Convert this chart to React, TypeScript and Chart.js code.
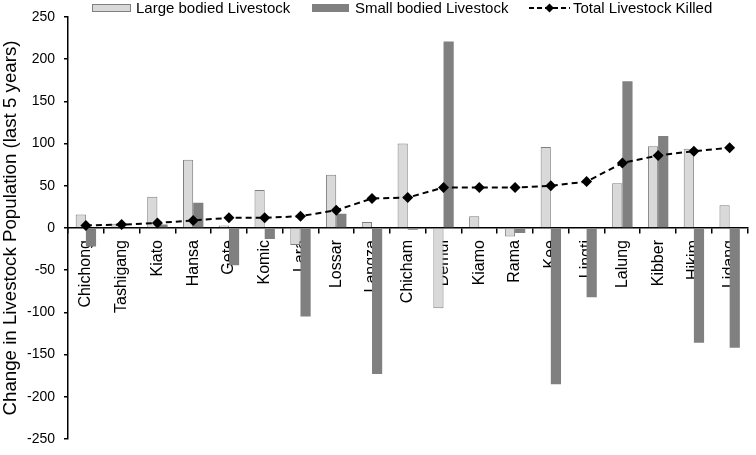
import React, { useEffect, useRef } from "react";
import { Chart, registerables } from "chart.js";

Chart.register(...registerables);

const categories = [
  "Chichong", "Tashigang", "Kiato", "Hansa", "Gete", "Komic", "Lara", "Lossar", "Langza",
  "Chicham", "Demul", "Kiamo", "Rama", "Kee", "Lingti", "Lalung", "Kibber", "Hikim", "Lidang",
];
const largeBodied = [16, 5, 37, 81, 3, 45, -20, 63, 7, 100, -95, 14, -10, 96, 0, 53, 97, 94, 27];
const smallBodied = [-22, 1, 4, 30, -44, -13, -105, 17, -173, -2, 221, -1, -6, -185, -82, 174, 109, -136, -142];
const totalKilled = [3, 4, 6, 9, 12, 12, 14, 21, 35, 36, 48, 48, 48, 50, 55, 77, 86, 91, 95];
const seriesLabels = ["Large bodied Livestock", "Small bodied Livestock", "Total Livestock Killed"];
const yTitle = "Change in Livestock Population (last 5 years)";
const yMin = -250;
const yMax = 250;
const yStep = 50;

const FONT = "'Liberation Sans', Arial, sans-serif";

const legendPlugin = {
  id: "customLegend",
  afterDraw(chart: any) {
    const ctx = chart.ctx;
    const ds = chart.data.datasets;
    ctx.save();
    ctx.font = `15px ${FONT}`;
    ctx.fillStyle = "#000";
    ctx.textBaseline = "alphabetic";
    ctx.textAlign = "left";
    // item 1
    ctx.fillStyle = "#d9d9d9";
    ctx.fillRect(92.5, 4.5, 38, 7);
    ctx.strokeStyle = "#7f7f7f";
    ctx.lineWidth = 1;
    ctx.strokeRect(92.5, 4.5, 38, 7);
    ctx.fillStyle = "#000";
    ctx.fillText(ds[0].label, 136, 12.5);
    // item 2
    ctx.fillStyle = "#808080";
    ctx.fillRect(312, 4, 37, 8);
    ctx.fillStyle = "#000";
    ctx.fillText(ds[1].label, 355, 12.5);
    // item 3
    ctx.strokeStyle = "#000";
    ctx.lineWidth = 2;
    ctx.setLineDash([5, 3]);
    ctx.beginPath();
    ctx.moveTo(529, 8);
    ctx.lineTo(570, 8);
    ctx.stroke();
    ctx.setLineDash([]);
    ctx.fillStyle = "#000";
    ctx.beginPath();
    ctx.moveTo(549.5 - 4.5, 8);
    ctx.lineTo(549.5, 8 - 4.5);
    ctx.lineTo(549.5 + 4.5, 8);
    ctx.lineTo(549.5, 8 + 4.5);
    ctx.closePath();
    ctx.fill();
    ctx.fillText(ds[2].label, 573, 12.5);
    ctx.restore();
  },
};

export default function App() {
  const ref = useRef<HTMLCanvasElement | null>(null);

  useEffect(() => {
    document.body.style.margin = "0";
    const canvas = ref.current;
    if (!canvas) return;
    const chart = new Chart(canvas, {
      type: "bar",
      data: {
        labels: categories,
        datasets: [
          {
            type: "bar",
            label: seriesLabels[0],
            data: largeBodied,
            backgroundColor: "#d9d9d9",
            borderColor: "#7f7f7f",
            borderWidth: 1,
            categoryPercentage: 0.57,
            barPercentage: 1,
            order: 2,
          },
          {
            type: "bar",
            label: seriesLabels[1],
            data: smallBodied,
            backgroundColor: "#808080",
            borderWidth: 0,
            categoryPercentage: 0.57,
            barPercentage: 1,
            order: 2,
          },
          {
            type: "line",
            label: seriesLabels[2],
            data: totalKilled,
            borderColor: "#000",
            borderWidth: 2,
            borderDash: [6, 4],
            pointStyle: "rectRot",
            pointRadius: 5.5,
            pointBackgroundColor: "#000",
            pointBorderColor: "#000",
            pointBorderWidth: 0,
            tension: 0,
            fill: false,
            order: 0,
          } as any,
        ],
      },
      options: {
        responsive: false,
        animation: false,
        layout: { padding: { top: 17, bottom: 7, right: 3, left: 0 } },
        plugins: {
          legend: { display: false },
          tooltip: { enabled: false },
        },
        scales: {
          x: {
            position: { y: 0 } as any,
            offset: true,
            grid: {
              display: true,
              drawOnChartArea: false,
              drawTicks: true,
              tickLength: 5,
              color: "#000",
              lineWidth: 1.5,
              offset: true,
            },
            border: { display: true, color: "#000", width: 1.5 },
            ticks: {
              autoSkip: false,
              maxRotation: 90,
              minRotation: 90,
              color: "#000",
              padding: 7,
              font: { family: FONT, size: 16 },
            },
          },
          y: {
            min: yMin,
            max: yMax,
            afterFit: (scale: any) => {
              scale.width = 68;
            },
            grid: {
              display: true,
              drawOnChartArea: false,
              drawTicks: true,
              tickLength: 4,
              color: "#000",
              lineWidth: 1.5,
            },
            border: { display: true, color: "#000", width: 1.5 },
            ticks: {
              stepSize: yStep,
              color: "#000",
              padding: 9,
              font: { family: FONT, size: 14, lineHeight: 1 },
            },
            title: {
              display: true,
              text: yTitle,
              color: "#000",
              padding: 0,
              font: { family: FONT, size: 18.7 },
            },
          },
        },
      },
      plugins: [legendPlugin],
    });
    return () => chart.destroy();
  }, []);

  return (
    <div style={{ position: "absolute", left: 0, top: 0, width: 756, height: 455, background: "#fff" }}>
      <canvas ref={ref} width={756} height={455} style={{ width: 756, height: 455 }} />
    </div>
  );
}
